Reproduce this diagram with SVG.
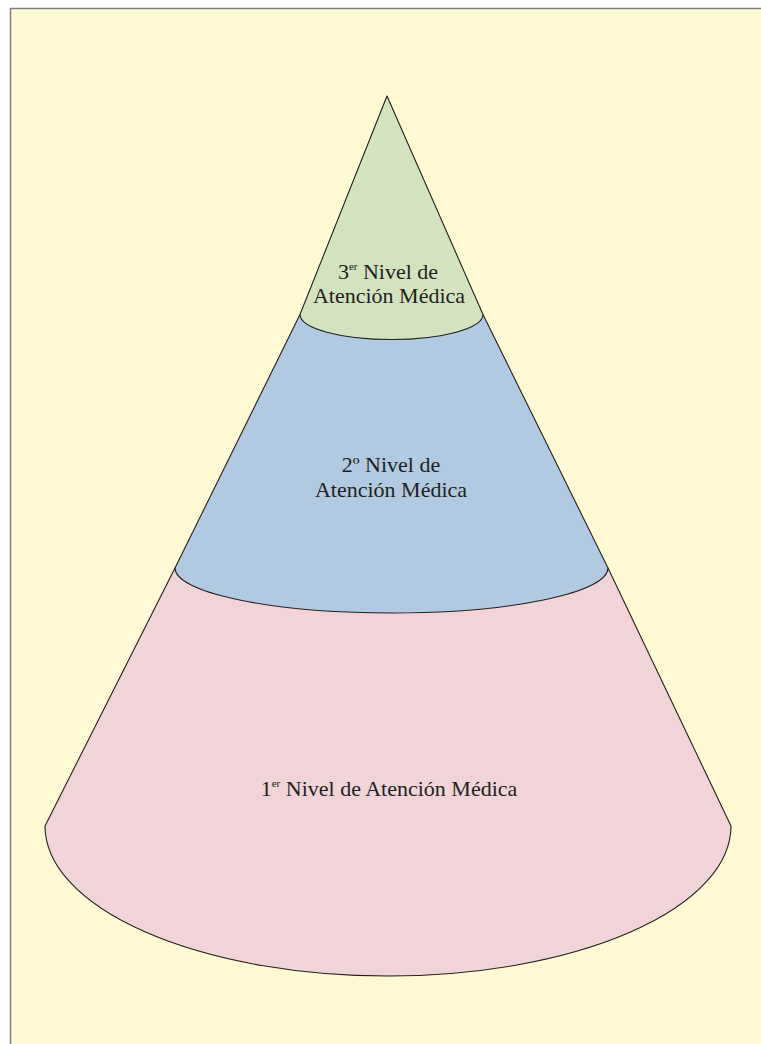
<svg xmlns="http://www.w3.org/2000/svg" width="761" height="1044" viewBox="0 0 761 1044">
<style>
.sec{stroke:#231F20;stroke-width:1.1;stroke-linejoin:round}
.lbl{font-family:"Liberation Serif","Times New Roman",serif;font-size:22px;fill:#231F20;text-anchor:middle}
.sup{font-size:11px}
</style>
<rect x="0" y="0" width="761" height="1044" fill="#FFFFFF"/>
<rect x="10.5" y="8.5" width="770" height="1060" fill="#FFFAD3" stroke="#7F7F7F" stroke-width="1.5"/>
<g id="nivel1">
<path class="sec" fill="#F0D4D8" d="M175,568 L45,826 A343,150 0 0 0 731,826 L608,568 Z"/>
<text class="lbl" x="389" y="796">1<tspan class="sup" dy="-9">er</tspan><tspan dy="9"> Nivel de Atención Médica</tspan></text>
</g>
<g id="nivel2">
<path class="sec" fill="#B1C9E1" d="M300,314.5 L175,568 A216.5,45 0 0 0 608,568 L483,314.5 Z"/>
<text class="lbl" x="391" y="472">2º Nivel de</text>
<text class="lbl" x="391" y="497">Atención Médica</text>
</g>
<g id="nivel3">
<path class="sec" fill="#D3E3C0" d="M387,96 L300,314.5 A91.5,25 0 0 0 483,314.5 Z"/>
<text class="lbl" x="388" y="279">3<tspan class="sup" dy="-9">er</tspan><tspan dy="9"> Nivel de</tspan></text>
<text class="lbl" x="389" y="303">Atención Médica</text>
</g>
<g id="connectors"/>
</svg>
